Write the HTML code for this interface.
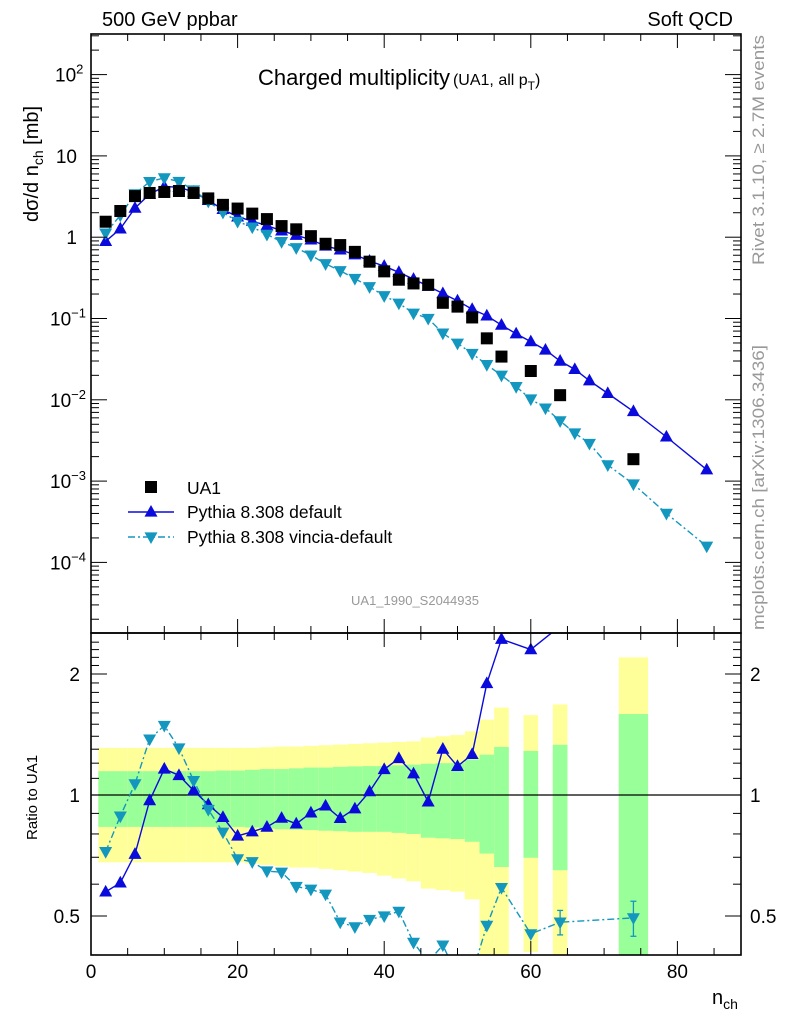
<!DOCTYPE html>
<html><head><meta charset="utf-8"><style>
body{margin:0;background:#fff;width:786px;height:1024px;overflow:hidden}
svg{display:block;font-family:"Liberation Sans",sans-serif}
</style></head><body>
<svg id="c" width="786" height="1024" viewBox="0 0 786 1024"></svg>
<script>
const xs=[2,4,6,8,10,12,14,16,18,20,22,24,26,28,30,32,34,36,38,40,42,44,46,48,50,52,54,56,60,64,74];
const xw=[1,1,1,1,1,1,1,1,1,1,1,1,1,1,1,1,1,1,1,1,1,1,1,1,1,1,1,1,1,1,2];
const ua1=[1.55,2.1,3.2,3.5,3.6,3.7,3.5,3.0,2.5,2.25,1.95,1.67,1.37,1.25,1.03,0.83,0.80,0.66,0.50,0.38,0.30,0.27,0.26,0.156,0.14,0.103,0.057,0.034,0.0226,0.0114,0.00186];
const yH=[1.31,1.31,1.31,1.31,1.31,1.31,1.31,1.31,1.31,1.31,1.31,1.315,1.32,1.32,1.325,1.33,1.335,1.34,1.345,1.35,1.355,1.36,1.39,1.40,1.41,1.44,1.54,1.65,1.58,1.68,2.2];
const yL=[0.68,0.68,0.68,0.68,0.68,0.68,0.68,0.68,0.68,0.68,0.675,0.67,0.665,0.66,0.66,0.655,0.65,0.645,0.64,0.63,0.62,0.61,0.585,0.58,0.575,0.55,0.35,0.35,0.407,0.35,0.35];
const gH=[1.146,1.146,1.146,1.146,1.146,1.146,1.146,1.146,1.15,1.15,1.155,1.16,1.16,1.165,1.17,1.17,1.175,1.178,1.18,1.18,1.185,1.19,1.196,1.20,1.20,1.226,1.26,1.317,1.287,1.333,1.59];
const gL=[0.833,0.833,0.833,0.833,0.833,0.833,0.833,0.833,0.833,0.833,0.83,0.825,0.822,0.82,0.818,0.815,0.813,0.81,0.81,0.81,0.805,0.80,0.783,0.78,0.777,0.765,0.715,0.662,0.698,0.65,0.35];
const px=[2,4,6,8,10,12,14,16,18,20,22,24,26,28,30,32,34,36,38,40,42,44,46,48,50,52,54,56,58,60,62,64,66,68,70.5,74,78.5,84];
const pyDef=[0.89,1.27,2.28,3.39,4.18,4.14,3.59,2.84,2.2,1.78,1.58,1.39,1.2,1.06,0.93,0.78,0.70,0.61,0.51,0.44,0.37,0.305,0.25,0.203,0.165,0.13,0.108,0.083,0.065,0.052,0.041,0.030,0.0237,0.0172,0.012,0.0072,0.0035,0.00138];
const pyVin=[1.12,1.86,3.41,4.82,5.36,4.84,3.8,2.76,2.02,1.56,1.33,1.08,0.88,0.74,0.60,0.47,0.386,0.31,0.245,0.19,0.154,0.116,0.10,0.066,0.0495,0.037,0.027,0.020,0.0145,0.0102,0.0079,0.0055,0.0039,0.0029,0.00158,0.00092,0.0004,0.000158];
const xTicks=[0,20,40,60,80];

const NS="http://www.w3.org/2000/svg",S=document.getElementById('c');
function el(t,a,p){const e=document.createElementNS(NS,t);for(const k in a)e.setAttribute(k,a[k]);(p||S).appendChild(e);return e;}
const L=91,R=741,T=34,M=633,B=955;
const X=v=>L+v*7.33;
const Y=v=>318.5-81.3*(Math.log10(v)+1);
const RY=r=>795-121*Math.log2(r);
const BLUE="#0a0adc",CYAN="#1497bf";

const defs=el('defs',{});
const c1=el('clipPath',{id:'ct'},defs);el('rect',{x:L,y:T,width:R-L,height:M-T},c1);
const c2=el('clipPath',{id:'cr'},defs);el('rect',{x:L,y:M,width:R-L,height:B-M},c2);

const gb=el('g',{'clip-path':'url(#cr)'});

xs.forEach((x,i)=>{
 let r=el('rect',{x:X(x-xw[i]),y:RY(yH[i]),width:X(x+xw[i])-X(x-xw[i]),height:RY(yL[i])-RY(yH[i]),fill:'#ffff99'},gb);
 
 r=el('rect',{x:X(x-xw[i]),y:RY(gH[i]),width:X(x+xw[i])-X(x-xw[i]),height:RY(gL[i])-RY(gH[i]),fill:'#99ff99'},gb);
 
});
el('line',{x1:L,x2:R,y1:RY(1),y2:RY(1),stroke:'#000','stroke-width':1.3});

function tri(g,x,y,up,col,s){const h=s*0.9;const p=up?`${x},${y-h*0.6} ${x-s/2},${y+h*0.4} ${x+s/2},${y+h*0.4}`:`${x},${y+h*0.6} ${x-s/2},${y-h*0.4} ${x+s/2},${y-h*0.4}`;return el('polygon',{points:p,fill:col},g);}

const gt=el('g',{'clip-path':'url(#ct)'});
function series(g,xv,yv,col,dash,up,name,yf){
 const pts=xv.map((x,i)=>X(x)+','+yf(yv[i])).join(' ');
 const l=el('polyline',{points:pts,fill:'none',stroke:col,'stroke-width':1.4,'stroke-dasharray':dash||'none'},g);
 
 xv.forEach((x,i)=>{const m=tri(g,X(x),yf(yv[i]),up,col,13);});
}
series(gt,px,pyDef,BLUE,null,true,'pythia-default',Y);
series(gt,px,pyVin,CYAN,'7,3,2,3',false,'pythia-vincia',Y);
xs.forEach((x,i)=>{const r=el('rect',{x:X(x)-6,y:Y(ua1[i])-6,width:12,height:12,fill:'#000'},gt);});

const gr=el('g',{'clip-path':'url(#cr)'});
function ratioSeries(arr){return xs.map(x=>{const j=px.indexOf(x);return arr[j];});}
const rDef=ratioSeries(pyDef).map((v,i)=>v/ua1[i]);
const rVin=ratioSeries(pyVin).map((v,i)=>v/ua1[i]);
series(gr,xs,rDef,BLUE,null,true,'ratio-default',RY);
series(gr,xs,rVin,CYAN,'7,3,2,3',false,'ratio-vincia',RY);
[[29,0.07],[30,0.1]].forEach(([i,e])=>{el('line',{x1:X(xs[i]),x2:X(xs[i]),y1:RY(rVin[i]*(1+e)),y2:RY(rVin[i]*(1-e)),stroke:CYAN,'stroke-width':1.3},gr);
 [1+e,1-e].forEach(f=>el('line',{x1:X(xs[i])-3,x2:X(xs[i])+3,y1:RY(rVin[i]*f),y2:RY(rVin[i]*f),stroke:CYAN,'stroke-width':1.3},gr));});

[[T,M],[M,B]].forEach(([a,b],k)=>{const f=el('rect',{x:L,y:a,width:R-L,height:b-a,fill:'none',stroke:'#000','stroke-width':1.6});});
for(let v=0;v<=88;v+=5){const maj=v%20==0;const len=maj?14:7;
 [[T,1],[M,-1],[M,1],[B,-1]].forEach(([y,d])=>el('line',{x1:X(v),x2:X(v),y1:y,y2:y+d*len,stroke:'#000','stroke-width':1}));}
xTicks.forEach(v=>{const t=el('text',{x:X(v),y:978,'font-size':19,'text-anchor':'middle'});t.textContent=v;});
for(let d=-5;d<=2;d++)for(let m=1;m<10;m++){const v=m*Math.pow(10,d);const y=Y(v);if(y<T||y>M)continue;const len=m==1?16:8;
 el('line',{x1:L,x2:L+len,y1:y,y2:y,stroke:'#000','stroke-width':1});el('line',{x1:R,x2:R-len,y1:y,y2:y,stroke:'#000','stroke-width':1});}
const yLab=[[100,'10','2'],[10,'10',''],[1,'1',''],[0.1,'10','−1'],[0.01,'10','−2'],[0.001,'10','−3'],[0.0001,'10','−4']];
yLab.forEach(([v,b,e])=>{let t;
 if(v==10){t=el('text',{x:77,y:Y(v)+7,'font-size':19,'text-anchor':'end'});t.textContent='10';}
 else if(v==1){t=el('text',{x:77,y:Y(v)+7,'font-size':19,'text-anchor':'end'});t.textContent='1';}
 else{t=el('text',{x:e.length>1?50:55,y:Y(v)+7,'font-size':19});t.textContent=b;const s=el('tspan',{dy:-8,'font-size':13},t);s.textContent=e;}
 });
for(let r=0.4;r<=2.5;r+=0.1){const y=RY(r);if(y<M||y>B)continue;const maj=Math.abs(r-0.5)<1e-6||Math.abs(r-1)<1e-6||Math.abs(r-2)<1e-6;const len=maj?16:8;
 el('line',{x1:L,x2:L+len,y1:y,y2:y,stroke:'#000','stroke-width':1});el('line',{x1:R,x2:R-len,y1:y,y2:y,stroke:'#000','stroke-width':1});}
[[2,'2'],[1,'1'],[0.5,'0.5']].forEach(([r,s])=>{[[80,'end'],[750,'start']].forEach(([x,a])=>{const t=el('text',{x:x,y:RY(r)+7,'font-size':19,'text-anchor':a});t.textContent=s;});});

function txt(x,y,s,size,name,extra){const t=el('text',Object.assign({x:x,y:y,'font-size':size},extra||{}));t.textContent=s;return t;}
txt(102,26,'500 GeV ppbar',20,'energy-label');
txt(733,26,'Soft QCD',20,'category-label',{'text-anchor':'end'});
const tt=txt(258,85,'Charged multiplicity',22,'plot-title');
const st=el('tspan',{'font-size':16,dx:3},tt);st.textContent='(UA1, all p';const s2=el('tspan',{'font-size':12,dy:5},tt);s2.textContent='T';const s3=el('tspan',{'font-size':16,dy:-5},tt);s3.textContent=')';
const yl=txt(0,0,'dσ/d n',20,'y-axis-title',{transform:'translate(38,222) rotate(-90)'});
const ys=el('tspan',{'font-size':14,dy:5},yl);ys.textContent='ch';const ys2=el('tspan',{dy:-5},yl);ys2.textContent=' [mb]';
txt(0,0,'Ratio to UA1',15,'ratio-axis-title',{transform:'translate(37,840) rotate(-90)'});
const xl=txt(712,1004,'n',20,'x-axis-title');const xs2=el('tspan',{'font-size':14,dy:5},xl);xs2.textContent='ch';
txt(0,0,'Rivet 3.1.10, ≥ 2.7M events',16.8,'rivet-label',{transform:'translate(764,265) rotate(-90)',fill:'#999',textLength:230,lengthAdjust:'spacingAndGlyphs'});
txt(0,0,'mcplots.cern.ch [arXiv:1306.3436]',16.8,'mcplots-label',{transform:'translate(764,630) rotate(-90)',fill:'#999',textLength:285,lengthAdjust:'spacingAndGlyphs'});
txt(415,605,'UA1_1990_S2044935',13,'analysis-id',{fill:'#999','text-anchor':'middle'});
const lg=el('g',{});
el('rect',{x:145,y:481,width:12,height:12,fill:'#000'},lg);txt(187,494,'UA1',17.5,'legend-ua1');
el('line',{x1:128,x2:174,y1:512,y2:512,stroke:BLUE,'stroke-width':1.4},lg);tri(lg,151,512,true,BLUE,13);txt(187,518,'Pythia 8.308 default',17.5,'legend-default');
el('line',{x1:128,x2:174,y1:537,y2:537,stroke:CYAN,'stroke-width':1.4,'stroke-dasharray':'7,3,2,3'},lg);tri(lg,151,537,false,CYAN,13);txt(187,543,'Pythia 8.308 vincia-default',17.5,'legend-vincia');
</script>
</body></html>
